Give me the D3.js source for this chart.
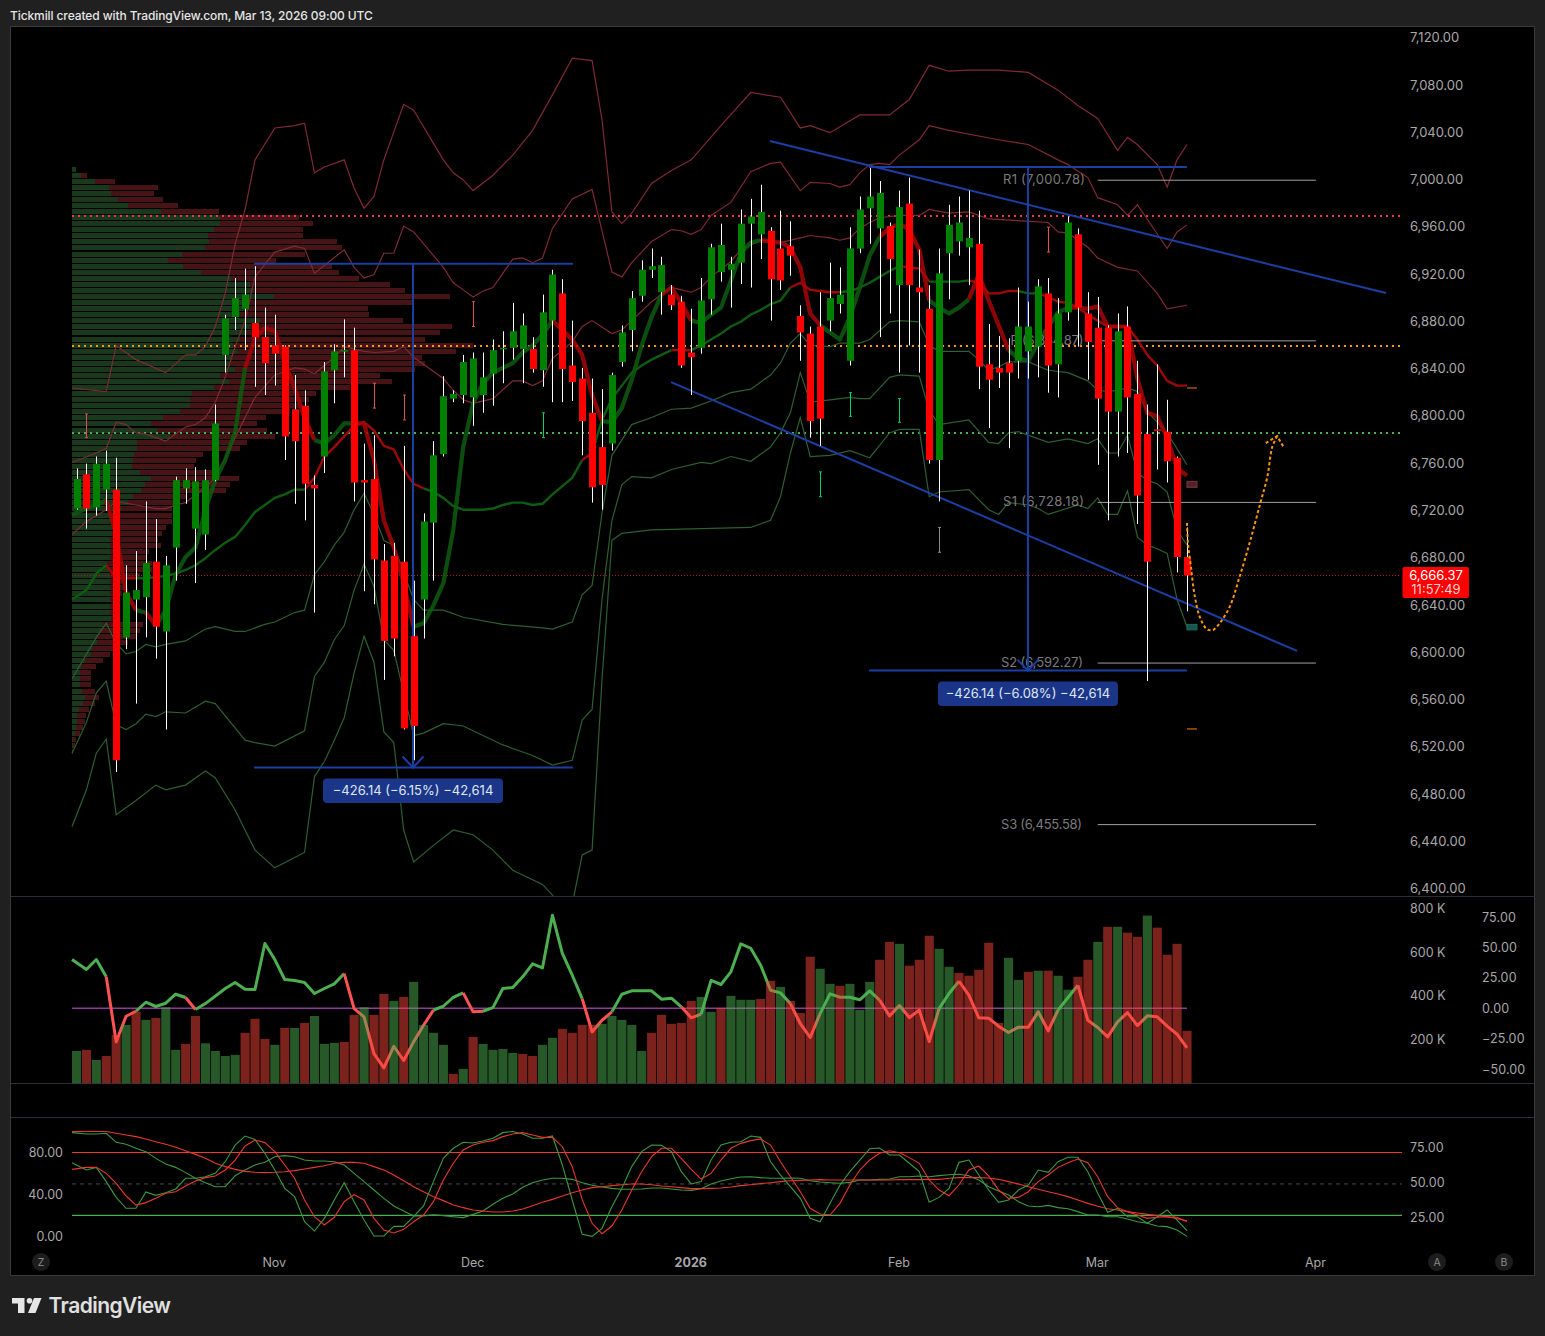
<!DOCTYPE html>
<html><head><meta charset="utf-8">
<script src="https://cdn.jsdelivr.net/npm/d3@7/dist/d3.min.js"></script>
<style>html,body{margin:0;padding:0;background:#202020}svg{display:block}text{font-family:Inter,Roboto,sans-serif}</style>
</head><body><svg id="c" width="1545" height="1336"></svg>
<script>
const highs=[6757,6761,6767,6772,6766,6675,6687,6729,6714,6683,6750,6757,6758,6756,6811,6887,6918,6926,6928,6893,6887,6861,6836,6823,6751,6847,6862,6883,6876,6778,6785,6693,6694,6776,6662,6719,6780,6835,6823,6853,6855,6855,6866,6873,6897,6888,6868,6904,6925,6917,6882,6842,6833,6824,6838,6878,6907,6933,6943,6936,6912,6903,6892,6918,6947,6964,6936,6976,6985,6997,6961,6975,6966,6895,6877,6906,6931,6927,6961,6987,7011,7000,6965,6992,7003,6942,6912,6943,6980,6987,6992,6975,6879,6869,6867,6910,6898,6917,6918,6901,6970,6960,6906,6902,6878,6888,6894,6848,6811,6845,6815,6767,6707];
const lows=[6722,6706,6717,6721,6500,6604,6558,6614,6596,6536,6662,6727,6660,6688,6746,6838,6874,6857,6826,6819,6827,6764,6727,6713,6635,6753,6812,6834,6729,6653,6642,6578,6598,6536,6510,6613,6662,6767,6813,6812,6793,6804,6810,6829,6849,6829,6838,6826,6813,6813,6814,6768,6728,6722,6772,6843,6856,6898,6918,6887,6891,6842,6819,6854,6887,6915,6893,6913,6910,6934,6882,6908,6920,6848,6783,6776,6873,6888,6844,6939,6947,6868,6888,6838,6861,6838,6761,6729,6900,6937,6912,6824,6791,6825,6774,6833,6833,6834,6821,6817,6882,6860,6832,6760,6713,6767,6770,6710,6577,6756,6745,6669,6636];
const opens=[6723,6752,6724,6739,6739,6614,6646,6648,6678,6619,6690,6740,6706,6701,6747,6853,6885,6892,6880,6868,6861,6860,6807,6810,6743,6767,6840,6856,6857,6747,6748,6679,6683,6678,6615,6646,6711,6769,6816,6819,6817,6819,6837,6858,6859,6858,6858,6840,6882,6905,6844,6833,6804,6775,6778,6847,6874,6903,6925,6906,6904,6898,6855,6859,6900,6923,6925,6931,6964,6955,6958,6943,6945,6886,6871,6877,6882,6896,6848,6943,6977,6960,6962,6912,6981,6910,6892,6764,6939,6949,6944,6947,6845,6842,6846,6848,6856,6860,6905,6845,6889,6955,6888,6876,6876,6805,6877,6820,6786,6790,6788,6766,6682];
const closes=[6748,6723,6761,6761,6510,6652,6654,6677,6623,6675,6747,6747,6746,6747,6795,6884,6901,6904,6868,6846,6854,6784,6780,6744,6740,6839,6856,6857,6745,6745,6680,6611,6613,6537,6539,6712,6768,6818,6820,6847,6850,6834,6857,6859,6873,6878,6841,6889,6921,6841,6830,6797,6741,6743,6836,6872,6901,6925,6928,6929,6895,6844,6851,6899,6944,6946,6930,6964,6970,6974,6917,6916,6937,6872,6797,6799,6901,6904,6943,6976,6987,6990,6934,6978,6912,6906,6764,6922,6963,6965,6952,6843,6832,6838,6838,6877,6877,6911,6844,6888,6965,6893,6864,6816,6805,6873,6817,6734,6678,6789,6763,6682,6666.37];
const emaFast=[6718,6723,6726,6730,6701,6652,6637,6635,6624,6637,6667,6682,6690,6722,6747,6764,6788,6842,6867,6876,6873,6847,6825,6800,6781,6778,6785,6795,6795,6795,6764,6713,6690,6660,6623,6626,6641,6660,6705,6775,6812,6829,6838,6842,6846,6855,6861,6870,6882,6874,6866,6853,6819,6797,6796,6808,6832,6861,6885,6904,6910,6897,6882,6880,6887,6893,6916,6939,6948,6950,6949,6948,6944,6927,6888,6878,6872,6866,6885,6910,6937,6953,6960,6964,6959,6942,6899,6893,6888,6893,6900,6921,6899,6878,6857,6850,6848,6863,6877,6889,6893,6893,6892,6894,6877,6877,6877,6833,6804,6801,6783,6757,6751];
const emaSlow=[6646,6654,6668,6675,6664,6664,6664,6664,6665,6666,6668,6671,6675,6681,6688,6694,6699,6709,6720,6726,6732,6735,6739,6739,6749,6767,6775,6784,6793,6796,6789,6776,6773,6756,6744,6740,6737,6732,6725,6722,6722,6722,6723,6726,6728,6728,6726,6727,6735,6742,6749,6764,6770,6798,6816,6827,6838,6844,6849,6853,6857,6857,6857,6861,6866,6871,6877,6881,6887,6891,6896,6899,6910,6914,6908,6907,6906,6906,6907,6910,6914,6919,6924,6928,6927,6926,6915,6915,6915,6915,6916,6914,6905,6905,6907,6907,6905,6905,6902,6898,6897,6893,6887,6882,6877,6877,6877,6866,6853,6844,6831,6827,6827];
const emaFastDown=[[3,6],[7,8],[17,24],[28,34],[48,53],[59,62],[69,75],[81,86],[90,94],[100,112]];
const emaSlowDown=[[3,6],[23,35],[51,52],[60,62],[72,77],[83,86],[90,95],[97,112]];
const bandA=[[-0.45,6825],[3,6822],[4,6861],[6,6849],[9,6838],[11,6853],[12,6853],[13,6860],[14,6877],[15,6905],[16,6947],[17,6976],[18,7018],[20,7045],[22,7047],[23,7049],[24,7007],[25,7012],[27,7018],[28,6994],[29,6977],[30,6987],[31,7018],[33,7065],[34,7060],[37,7018],[38,7007],[39,7001],[40,6992],[42,7005],[44,7022],[46,7043],[48,7073],[50,7104],[52,7102],[53,7052],[54,6974],[55,6964],[56,6973],[58,6998],[60,7009],[62,7018],[65,7047],[68,7075],[71,7071],[73,7045],[74,7047],[76,7041],[79,7056],[82,7056],[84,7069],[86,7098],[88,7093],[90,7094],[93,7094],[96,7092],[99,7077],[101,7064],[103,7053],[105,7026],[106,7037],[107,7031],[109,7014],[110,6995],[111,7018],[112,7031]];
const bandB=[[-0.45,6762],[2,6770],[3,6774],[4,6796],[5,6794],[6,6787],[7,6786],[9,6780],[11,6792],[12,6794],[13,6800],[14,6813],[15,6834],[16,6860],[17,6882],[18,6919],[20,6940],[22,6945],[23,6943],[24,6922],[27,6942],[28,6927],[29,6918],[30,6921],[31,6939],[32,6939],[33,6962],[34,6957],[37,6927],[38,6914],[39,6908],[40,6902],[41,6907],[42,6910],[44,6934],[45,6935],[46,6931],[47,6935],[48,6960],[50,6985],[52,6993],[54,6923],[55,6919],[56,6931],[58,6949],[60,6959],[61,6958],[62,6955],[63,6959],[64,6971],[66,6982],[67,6995],[68,7008],[70,7015],[71,7016],[73,6992],[74,6999],[76,6998],[77,6995],[78,6997],[79,7007],[80,7014],[81,7015],[82,7014],[83,7022],[85,7035],[86,7047],[88,7043],[93,7035],[96,7031],[99,7018],[100,7014],[102,7003],[103,6986],[105,6980],[106,6971],[107,6980],[110,6943],[111,6957],[112,6963]];
const bandC=[[-0.45,6701],[1,6712],[3,6722],[4,6729],[6,6726],[8,6723],[9,6723],[10,6726],[11,6728],[13,6741],[14,6749],[15,6766],[16,6783],[18,6817],[20,6836],[22,6842],[23,6841],[24,6837],[26,6851],[27,6860],[29,6856],[30,6855],[32,6856],[33,6860],[34,6851],[37,6833],[38,6823],[39,6815],[40,6812],[42,6816],[44,6831],[45,6831],[46,6827],[47,6831],[48,6850],[50,6864],[51,6877],[52,6882],[54,6871],[55,6874],[56,6882],[58,6898],[60,6910],[61,6908],[62,6906],[63,6910],[64,6919],[66,6932],[67,6942],[68,6946],[69,6950],[71,6948],[73,6952],[74,6954],[76,6952],[77,6950],[78,6952],[79,6960],[80,6965],[81,6969],[83,6971],[85,6971],[86,6976],[88,6973],[90,6974],[91,6971],[92,6968],[96,6966],[98,6965],[99,6957],[100,6956],[102,6944],[103,6935],[105,6927],[107,6924],[109,6905],[110,6892],[112,6895]];
const bandE=[[-0.45,6579],[2,6614],[3,6626],[4,6609],[5,6600],[6,6602],[7,6608],[8,6606],[9,6608],[11,6611],[13,6621],[14,6623],[16,6619],[17,6619],[19,6625],[20,6627],[22,6635],[23,6637],[24,6667],[25,6678],[26,6692],[27,6703],[28,6722],[29,6736],[30,6718],[31,6696],[32,6692],[34,6646],[35,6637],[37,6637],[39,6631],[43,6625],[47,6622],[48,6621],[50,6627],[51,6650],[52,6658],[53,6719],[54,6768],[56,6794],[58,6800],[60,6807],[62,6808],[64,6814],[66,6821],[68,6824],[70,6836],[71,6846],[72,6863],[73,6871],[74,6861],[76,6860],[77,6863],[79,6863],[80,6866],[82,6881],[83,6882],[85,6881],[86,6861],[87,6856],[90,6856],[91,6849],[92,6840],[93,6843],[94,6847],[96,6847],[98,6840],[100,6838],[102,6831],[103,6823],[104,6822],[105,6823],[106,6825],[107,6822],[108,6805],[110,6787],[112,6760]];
const bandF=[[-0.45,6516],[1,6542],[2,6567],[3,6577],[4,6540],[5,6536],[6,6541],[7,6549],[8,6547],[9,6551],[11,6550],[13,6560],[14,6558],[17,6527],[18,6525],[20,6522],[23,6535],[24,6581],[25,6593],[26,6612],[27,6624],[28,6654],[29,6676],[30,6657],[31,6612],[32,6603],[33,6567],[34,6531],[35,6533],[37,6541],[39,6539],[43,6523],[46,6514],[48,6506],[50,6510],[51,6544],[52,6553],[53,6646],[54,6713],[55,6743],[56,6750],[58,6749],[60,6756],[63,6762],[64,6761],[66,6767],[68,6763],[70,6775],[71,6787],[72,6804],[73,6838],[74,6813],[76,6815],[78,6817],[79,6816],[80,6816],[82,6834],[83,6836],[85,6835],[86,6806],[87,6794],[90,6798],[92,6779],[93,6778],[94,6787],[95,6788],[98,6779],[100,6782],[102,6778],[103,6782],[104,6770],[105,6770],[106,6785],[107,6753],[108,6747],[109,6744],[110,6737],[111,6705],[112,6692]];
const bandG=[[-0.45,6454],[1,6485],[2,6516],[3,6528],[4,6464],[6,6476],[8,6489],[9,6485],[11,6489],[13,6501],[14,6495],[16,6468],[18,6434],[20,6419],[23,6432],[24,6496],[25,6509],[26,6527],[27,6546],[28,6584],[29,6615],[30,6593],[31,6534],[32,6525],[33,6451],[34,6424],[36,6438],[38,6451],[40,6447],[42,6434],[44,6417],[47,6405],[48,6396],[49,6383],[50,6388],[51,6430],[52,6434],[53,6578],[54,6696],[55,6702],[58,6705],[68,6707],[70,6713],[71,6733],[72,6770],[73,6800],[74,6767],[76,6768],[78,6772],[80,6766],[82,6787],[83,6790],[85,6790],[86,6733],[87,6737],[90,6739],[92,6722],[93,6718],[94,6728],[96,6726],[97,6723],[98,6718],[101,6726],[102,6723],[103,6732],[104,6718],[105,6718],[106,6738],[107,6699],[108,6692],[109,6689],[110,6685],[111,6646],[112,6623]];
const profileBuy=[4,9,23,37,39,46,56,89,148,148,142,136,137,133,110,96,111,129,159,178,181,202,178,173,168,188,178,175,168,161,165,161,158,163,148,157,142,120,118,118,108,91,79,85,98,65,65,62,61,60,68,79,73,69,61,56,49,48,45,41,40,38,38,38,38,35,38,38,38,38,38,38,38,38,39,31,29,25,25,20,19,13,9,8,8,8,10,13,11,7,5,5,4,3,1,1,0];
const profileSell=[0,6,20,49,43,45,50,58,79,93,89,95,128,137,123,108,149,138,128,140,152,176,162,123,129,143,202,193,185,240,219,189,195,180,160,163,136,124,119,110,110,103,106,110,105,110,103,69,63,62,77,88,85,85,53,45,51,52,55,53,50,48,51,39,36,45,42,30,13,17,12,7,6,3,6,40,39,40,31,28,19,18,15,11,11,11,13,14,12,10,9,8,7,5,3,2,1];
const profileTop=7010.2, profileStep=5.135;
const volume=[148,153,107,125,221,267,328,290,299,348,153,180,308,183,148,125,130,231,295,203,176,253,253,276,308,180,185,189,313,348,313,409,377,395,464,267,231,176,43,66,212,180,153,157,139,134,125,176,208,249,231,267,267,272,308,290,267,148,231,313,272,276,377,395,327,345,400,382,382,386,469,441,377,322,579,524,455,446,455,336,464,565,647,638,538,565,675,615,533,505,492,519,643,276,574,473,510,515,515,492,428,487,565,647,716,716,689,670,767,712,588,638,240];
const volumeUp=[1,0,1,0,0,1,0,1,0,1,1,0,0,1,1,1,1,0,0,0,1,0,1,0,1,1,1,0,0,1,0,0,1,0,1,1,1,1,0,1,0,1,1,1,1,0,0,1,1,0,0,0,0,1,1,1,1,1,0,0,0,0,0,1,1,0,1,1,1,0,0,1,0,0,0,1,1,0,1,1,1,0,0,1,0,0,0,1,1,0,0,0,0,0,1,1,0,1,0,1,1,0,0,1,0,1,0,0,1,0,0,0,0];
const cvd=[40,31.8,40,25.8,-27.7,-6.6,-2.5,4.9,1.4,4.1,11.5,8.8,-1.1,3.8,9.9,16.2,21.1,15.6,15.4,53.2,40,23.6,22.8,21.1,12.1,16.2,20,28.5,-0.3,-7.1,-37.3,-49.1,-31.3,-43,-27.7,-14,-1.6,1.6,9,12.6,-3,-2.5,0.5,16.2,17,25.8,36.5,33.2,76.5,45,27.1,7.9,-19.5,-9.9,-3,11.5,14.3,14.3,14.3,7.4,8.2,1.1,-7.9,-4.9,22.8,19.5,29.9,52.9,49.3,35.4,14.8,12.6,3.8,-12.6,-24.1,-4.4,11.8,9,9,6.9,14.3,6.6,-6.3,2.2,-7.7,-1.6,-27.4,-0.3,12.1,22.2,10.7,-7.9,-8.2,-14.8,-20,-15.6,-15.6,-3,-18.6,-1.6,8.8,18.9,-9.9,-15.9,-23.6,-11.2,-3.6,-14.3,-6.3,-7.1,-14.8,-21.4,-32.6];
const cvdDown=[[3,6],[11,12],[27,36],[39,41],[51,54],[61,63],[72,75],[81,87],[89,99],[101,112]];
const stochK=[70.3,63.3,65.8,52.2,37.2,26.8,26.8,42.3,39.1,41.7,45.2,55.4,55.4,56.9,60.1,71.2,87.1,95.7,92.5,79.2,63.3,45.8,37.9,14,5.1,17.2,34.7,51.2,33.1,15.6,0.4,0.4,9.6,9.6,18.8,29,52.2,74.4,84,89.7,89,90.9,93.5,98.9,100,97.6,93.5,93.5,95.7,68.1,34.7,2,0,7.7,28.3,45.8,66.5,80.8,87.1,86.8,80.8,61.7,50,52.2,72.8,87.1,89.7,90.3,95.7,94.4,71.2,58.5,47.4,36.3,17.2,14,31.5,49,61.7,72.8,83.6,84.3,77.6,77.6,69.7,61.7,32.5,37.2,45.8,70.6,72.8,58.5,44.2,32.5,34.7,44.2,49,63.3,61.1,71.2,75.4,75.4,61.7,41.1,22.9,26.8,18.8,18.8,12.5,18.8,25.2,15.6,5.5];
const stochD=[63.9,65.8,65.8,60.1,50.6,38.5,29.9,32.2,36.3,41.1,42.6,48,52.9,56,57.6,63.3,72.8,86.2,91.9,89.4,80.8,68.1,55.4,34.7,18.8,10.9,18.2,33.1,39.8,34.7,17.2,6.1,3.2,6.7,14,20.4,33.1,53.8,69.7,82.4,87.1,89.7,91.3,95.1,97.6,98.9,96.7,94.4,94.4,85.5,66.5,35.3,12.5,2.6,9.9,25.2,44.2,61.7,76,84,84,74.4,63.9,54.7,60.1,72.8,84,88.7,91.3,92.9,87.1,71.2,56.9,42.6,26.8,21.4,20.4,31.5,49,63.3,72.8,79.2,81.7,79.8,75.1,69.7,53.8,44.2,38.8,49,63.3,67.1,57.6,44.2,36.3,37.2,42.6,52.2,58.5,65.8,70.3,73.8,70.3,56.9,37.9,27.4,23.6,20.4,17.2,18.2,18.8,18.2,14];
const slowK=[98.9,97.6,97.6,98.3,89.7,87.8,84,80.8,74.4,69,65.8,60.8,55.4,51.2,47.4,47.4,57.9,63.3,68.1,70.6,76,77,76,72.8,71.9,71.9,71.2,68.1,60.1,52.2,44.2,36.3,29,24.2,19.4,19.4,20.7,19.8,18.8,17.9,21,24.2,30.6,36.3,40.4,46.8,51.2,53.8,55.4,55.4,54.4,51.2,48.7,47.1,45.8,44.9,44.9,45.2,46.1,46.1,45.2,44.2,43.9,45.5,50,52.9,55,56.6,56.9,56,55.4,55.4,55.7,55.4,53.1,51.9,51.2,50.6,51.5,53.8,53.8,54.4,54.7,56.9,56.9,57.6,56.9,57.9,58.8,59.2,57.9,53.8,47.4,43.3,39.5,33.1,29,28.3,29.6,27.4,26.4,23.6,20.4,20.4,18.8,18.8,16.6,14,12.5,9.9,9.3,6.1,0];
const slowD=[99.9,100,100,100,98.3,96.7,95.1,92.9,90.3,87.8,84.9,81.7,78.2,74.4,69.7,66.5,63.9,62,61.1,60.8,61.1,61.7,62.7,64.3,65.8,67.4,69.7,70.6,70.6,69.7,66.5,63.3,58.5,53.1,47.4,42.6,37.9,34.1,29.9,27.4,25.2,24.2,23.3,23.3,24.2,26.1,29.3,32.5,35.3,38.5,41.7,44.2,46.5,47.4,48.4,49.3,50,50,49.3,48,47.4,46.5,45.5,45.5,45.8,46.1,47.1,48.4,49.3,50.3,51.2,52.2,53.1,53.4,53.8,54.1,53.8,53.8,53.8,53.8,53.8,53.8,53.8,54.1,54.1,54.1,54.4,54.4,55.4,56,56,56,55.7,54.4,52.2,50,47.4,44.9,42.6,40.4,37.9,34.7,31.5,28.7,26.4,25.2,23.6,22.3,21,19.8,18.8,16.9,15];
const priceTicks=[7120,7080,7040,7000,6960,6920,6880,6840,6800,6760,6720,6680,6640,6600,6560,6520,6480,6440,6400];
const volumeTicks=[800,600,400,200];
const cvdTicks=[75,50,25,0,-25,-50];
const stochLeftTicks=[80,40,0];
const stochRightTicks=[75,50,25];
const monthIdx=[20,40,62,83,103,125];
const monthNames=["Nov","Dec","2026","Feb","Mar","Apr"];
const pivotNames=["R1 (7,000.78)","P (6,864.87)","S1 (6,728.18)","S2 (6,592.27)","S3 (6,455.58)"];
const pivotValues=[7000.78,6864.87,6728.18,6592.27,6455.58];
const pivotLabelIdx=[93.45,94.2,93.45,93.25,93.25];
const hLevels=[6970.5,6860.5,6787];
const hColors=["#f23645","#ff9800","#4caf50"];
const lastPrice=6666.37;
const trendUpper=[[69.94,7033.9],[132.07,6905.3]];
const trendLower=[[59.96,6830],[123.1,6602.5]];
const measures=[{from:17.9,to:50.07,mid:33.94,top:6930,bot:6503.86,label:"−426.14 (−6.15%) −42,614"},{from:79.93,to:112,mid:95.96,top:7012,bot:6585.86,label:"−426.14 (−6.08%) −42,614"}];
const forecast=[[112,6710.7],[112.1,6693.8],[112.4,6673.5],[112.8,6648.1],[113.3,6631.2],[114,6621],[114.6,6620.2],[115.3,6626],[116.3,6639.7],[117.3,6665],[118.4,6696.4],[119.4,6727.7],[120.1,6749.7],[120.6,6775],[121.1,6784.3]];
const forecastHead=[[119.95,6778.4],[121.1,6784.3],[121.8,6774.2]];
const alertMarks=[[1,6803,6783,"#d9534f"],[30,6829,6808,"#d9534f"],[33,6819,6798,"#d9534f"],[40,6898,6877,"#d9534f"],[47,6804,6783,"#00d26a"],[75,6754,6733,"#00d26a"],[78,6821,6801,"#00d26a"],[83,6816,6796,"#00d26a"],[87,6707,6686,"#8a8a8a"],[98,6961,6940,"#f0504a"]];

const X0=76.5, STEP=9.915;
const x=d3.scaleLinear().domain([0,112]).range([X0,X0+STEP*112]);
const xL=i=>i===0?x(-0.45):x(i);
const yP=d3.scaleLinear().domain([6400,7120]).range([890.3,39.3]);
const yV=d3.scaleLinear().domain([0,800]).range([1083.3,908.4]);
const yC=d3.scaleLinear().domain([-50,75]).range([1069,917]);
const yS=d3.scaleLinear().domain([0,100]).range([1236.4,1131.5]);
const yS2=d3.scaleLinear().domain([25,75]).range([1217,1147]);
const xProf=d3.scaleLinear().domain([0,400]).range([72,472]);
const svg=d3.select("#c");
const LBL="#a8a8a8";

svg.append("rect").attr("width",1545).attr("height",1336).attr("fill","#202020");
svg.append("rect").attr("x",10.5).attr("y",26.5).attr("width",1524).attr("height",1249).attr("fill","#000").attr("stroke","#3a3a3a");
svg.append("text").attr("x",10).attr("y",19.5).attr("fill","#e6e6e6").attr("font-size",12).attr("font-weight",500).attr("letter-spacing",-0.1).text("Tickmill created with TradingView.com, Mar 13, 2026 09:00 UTC");
[896.5,1083.5,1117.5].forEach(v=>svg.append("line").attr("x1",11).attr("x2",1534).attr("y1",v).attr("y2",v).attr("stroke","#2a2e39"));

const defs=svg.append("defs");
defs.append("clipPath").attr("id","mainClip").append("rect").attr("x",11).attr("y",27).attr("width",1523).attr("height",869);
const main=svg.append("g").attr("clip-path","url(#mainClip)");

// volume profile
const gp=main.append("g");
profileBuy.forEach((b,i)=>{
  const py=Math.round(yP(profileTop-i*profileStep)-2.5);
  gp.append("rect").attr("x",xProf(0)).attr("y",py).attr("width",xProf(b)-xProf(0)).attr("height",5).attr("fill","#1a381c");
  gp.append("rect").attr("x",xProf(b)).attr("y",py).attr("width",xProf(b+profileSell[i])-xProf(b)).attr("height",5).attr("fill","#471415");
});
// levels
hLevels.forEach((v,i)=>main.append("line").attr("x1",72).attr("x2",1400).attr("y1",yP(v)).attr("y2",yP(v)).attr("stroke",hColors[i]).attr("stroke-width",2).attr("stroke-dasharray","2 4"));
main.append("line").attr("x1",72).attr("x2",1400).attr("y1",yP(lastPrice)).attr("y2",yP(lastPrice)).attr("stroke","#a82020").attr("stroke-dasharray","1 2");
// bands
const pairLine=d3.line().x(d=>x(d[0])).y(d=>yP(d[1]));
[bandA,bandB,bandC].forEach(b=>main.append("path").attr("d",pairLine(b)).attr("fill","none").attr("stroke","#7f2a33").attr("stroke-width",1.2));
[bandE,bandF,bandG].forEach(b=>main.append("path").attr("d",pairLine(b)).attr("fill","none").attr("stroke","#2d5f30").attr("stroke-width",1.2));
// coloured runs
function runs(vals,down,scale,g,up,dn,w,op){
  const isDown=i=>down.some(r=>i>=r[0]&&i<r[1]);
  let s=0;
  for(let i=1;i<=vals.length-1;i++){
    if(i===vals.length-1||isDown(i)!==isDown(s)){
      const pts=d3.range(s,i+1).map(k=>[k,vals[k]]);
      g.append("path").attr("d",d3.line().x(d=>xL(d[0])).y(d=>scale(d[1]))(pts)).attr("fill","none")
       .attr("stroke",isDown(s)?dn:up).attr("stroke-width",w).attr("stroke-linejoin","round").attr("opacity",op);
      s=i;
    }
  }
}
runs(emaSlow,emaSlowDown,yP,main,"#0d5c10","#a00808",2.4,1);
runs(emaFast,emaFastDown,yP,main,"#0d5c10","#a80606",4.2,.85);
// pivots
const pivotLabelLen=[82,73,81,82,81];
pivotValues.forEach((v,i)=>{
  main.append("line").attr("x1",x(103)).attr("x2",x(125)).attr("y1",yP(v)).attr("y2",yP(v)).attr("stroke","#a0a0a0");
  main.append("text").attr("x",x(pivotLabelIdx[i])).attr("y",yP(v)+4).attr("fill","#7b7b7b").attr("font-size",13).attr("textLength",pivotLabelLen[i]).attr("lengthAdjust","spacing").text(pivotNames[i]);
});
// trend lines
[trendUpper,trendLower].forEach(t=>main.append("path").attr("d",pairLine(t)).attr("stroke","#1b3fa3").attr("stroke-width",2).attr("fill","none"));
// measure tools
measures.forEach(m=>{
  [m.top,m.bot].forEach(v=>main.append("line").attr("x1",x(m.from)).attr("x2",x(m.to)).attr("y1",yP(v)).attr("y2",yP(v)).attr("stroke","#1b3fa3").attr("stroke-width",2));
  main.append("line").attr("x1",x(m.mid)).attr("x2",x(m.mid)).attr("y1",yP(m.top)).attr("y2",yP(m.bot)).attr("stroke","#1b3fa3").attr("stroke-width",2);
  const cx=x(m.mid),cy=yP(m.bot);
  main.append("path").attr("d",`M${cx-10.5},${cy-11}L${cx},${cy}L${cx+10.5},${cy-11}`).attr("fill","none").attr("stroke","#1b3fa3").attr("stroke-width",2);
});
// alert marks
alertMarks.forEach(a=>{
  const X=Math.round(x(a[0]))+.5;
  main.append("line").attr("x1",X).attr("x2",X).attr("y1",yP(a[1])).attr("y2",yP(a[2])).attr("stroke",a[3]);
  [a[1],a[2]].forEach(v=>main.append("line").attr("x1",X-1.5).attr("x2",X+1.5).attr("y1",yP(v)).attr("y2",yP(v)).attr("stroke",a[3]));
});
// candles
const gc=main.append("g");
d3.range(highs.length).forEach(i=>{
  const X=Math.round(x(i))+.5;
  gc.append("line").attr("x1",X).attr("x2",X).attr("y1",yP(highs[i])).attr("y2",yP(lows[i])).attr("stroke","#fff");
  const top=yP(Math.max(opens[i],closes[i])), bot=yP(Math.min(opens[i],closes[i]));
  gc.append("rect").attr("x",X-3.5).attr("width",7).attr("y",top).attr("height",Math.max(1.5,bot-top)).attr("fill",closes[i]>=opens[i]?"#008000":"#ff0000");
});
// forecast
const fLine=d3.line().x(d=>x(d[0])).y(d=>yP(d[1]));
main.append("path").attr("d",fLine.curve(d3.curveCatmullRom)(forecast)).attr("fill","none").attr("stroke","#ff9800").attr("stroke-width",2).attr("stroke-dasharray","3 2.5");
main.append("path").attr("d",d3.line().x(d=>x(d[0])).y(d=>yP(d[1]))(forecastHead)).attr("fill","none").attr("stroke","#ff9800").attr("stroke-width",2).attr("stroke-dasharray","3 2.5");
// right end markers
main.append("line").attr("x1",x(112)).attr("x2",x(113)).attr("y1",yP(6825)).attr("y2",yP(6825)).attr("stroke","#ff7a1a");
main.append("line").attr("x1",x(112)).attr("x2",x(113)).attr("y1",yP(6536.5)).attr("y2",yP(6536.5)).attr("stroke","#ff7a1a");
main.append("rect").attr("x",x(112)).attr("width",10).attr("y",yP(6746)).attr("height",6).attr("fill","#56222a").attr("stroke","#7a3640");
main.append("rect").attr("x",x(112)).attr("width",10).attr("y",yP(6625)).attr("height",5.5).attr("fill","#17564c").attr("stroke","#1f6b5e");
// measure labels
measures.forEach((m,i)=>{
  const cx=x(m.mid), by=yP(m.bot)+11;
  main.append("rect").attr("x",cx-90).attr("y",by).attr("width",180).attr("height",24.5).attr("rx",4).attr("fill","#1b3688");
  main.append("text").attr("x",cx).attr("y",by+16.5).attr("text-anchor","middle").attr("fill","#dfe6f5").attr("font-size",13).text(m.label);
});
// axes
const styleAxis=(g,fs,ls)=>{g.select(".domain").remove();g.selectAll("line").remove();g.selectAll("text").attr("fill",LBL).attr("font-size",fs).attr("letter-spacing",ls).attr("font-family","Inter,Roboto,sans-serif");};
svg.append("g").attr("transform","translate(1410,-1.7)").call(d3.axisRight(yP).tickValues(priceTicks).tickSize(0).tickPadding(0).tickFormat(d3.format(",.2f"))).call(g=>styleAxis(g,13,0));
svg.append("rect").attr("x",1402.5).attr("y",567).attr("width",66.5).attr("height",31).attr("rx",2).attr("fill","#ff0000");
svg.append("text").attr("x",1436).attr("y",579.5).attr("text-anchor","middle").attr("fill","#fff").attr("font-size",13).text(d3.format(",.2f")(lastPrice));
svg.append("text").attr("x",1436).attr("y",593.5).attr("text-anchor","middle").attr("fill","#f5d0d0").attr("font-size",13).text("11:57:49");

// volume pane
const gv=svg.append("g");
gv.append("line").attr("x1",72).attr("x2",1187).attr("y1",yC(0)).attr("y2",yC(0)).attr("stroke","#8e3a98").attr("stroke-width",1.5);
runs(cvd,cvdDown,yC,gv,"#4caf50","#ff5252",3,1);
volume.forEach((v,i)=>gv.append("rect").attr("x",x(i)-4.5).attr("width",9.1).attr("y",yV(v)).attr("height",yV(0)-yV(v))
  .attr("fill",volumeUp[i]?"rgb(76,175,80)":"rgb(244,67,54)").attr("opacity",.5));
svg.append("g").attr("transform","translate(1410,0)").call(d3.axisRight(yV).tickValues(volumeTicks).tickSize(0).tickPadding(0).tickFormat(d=>d+" K")).call(g=>styleAxis(g,12.5,0));
svg.append("g").attr("transform","translate(1482,0)").call(d3.axisRight(yC).tickValues(cvdTicks).tickSize(0).tickPadding(0).tickFormat(d3.format(".2f"))).call(g=>styleAxis(g,12.5,0.15));

// stoch pane
const gs=svg.append("g");
gs.append("line").attr("x1",72).attr("x2",1402).attr("y1",yS(80)).attr("y2",yS(80)).attr("stroke","#f0392b").attr("stroke-width",1.2);
gs.append("line").attr("x1",72).attr("x2",1402).attr("y1",yS(20)).attr("y2",yS(20)).attr("stroke","#4caf50").attr("stroke-width",1.2);
gs.append("line").attr("x1",72).attr("x2",1402).attr("y1",yS(50)).attr("y2",yS(50)).attr("stroke","#4a4a4a").attr("stroke-dasharray","4 4");
[[slowK,"#3d9a40"],[slowD,"#e8382c"],[stochK,"#3d9a40"],[stochD,"#e8382c"]].forEach(s=>
  gs.append("path").attr("d",d3.line().x((d,i)=>xL(i)).y(d=>yS(d))(s[0])).attr("fill","none").attr("stroke",s[1]).attr("stroke-width",1.1));
svg.append("g").attr("transform","translate(63,0)").call(d3.axisLeft(yS).tickValues(stochLeftTicks).tickSize(0).tickPadding(0).tickFormat(d3.format(".2f"))).call(g=>styleAxis(g,12.5,0));
svg.append("g").attr("transform","translate(1410,0)").call(d3.axisRight(yS2).tickValues(stochRightTicks).tickSize(0).tickPadding(0).tickFormat(d3.format(".2f"))).call(g=>styleAxis(g,12.5,0.1));

// time axis
const xa=svg.append("g").attr("transform","translate(-1,1258)").call(d3.axisBottom(x).tickValues(monthIdx).tickSize(0).tickPadding(0).tickFormat((d,i)=>monthNames[i])).call(g=>styleAxis(g,12.5,0));
xa.selectAll("text").attr("font-weight",(d,i)=>monthNames[i]==="2026"?700:400);
// round buttons
[[41,"Z"],[1437,"A"],[1504,"B"]].forEach(b=>{
  svg.append("circle").attr("cx",b[0]).attr("cy",1262).attr("r",9).attr("fill","#1d1d1d");
  svg.append("text").attr("x",b[0]).attr("y",1266).attr("text-anchor","middle").attr("fill","#8a8a8a").attr("font-size",10.5).text(b[1]);
});
// footer logo
const logo=svg.append("g").attr("fill","#e6e6e6");
logo.append("path").attr("d","M12 1298H24.5V1313H18V1303.5H12Z");
logo.append("circle").attr("cx",29.5).attr("cy",1300.8).attr("r",2.8);
logo.append("path").attr("d","M34 1298H41.5L35.5 1313H28Z");
svg.append("text").attr("x",48.5).attr("y",1313).attr("fill","#e0e0e0").attr("font-size",21).attr("font-weight",600).attr("letter-spacing",-0.55).text("TradingView");
</script></body></html>
